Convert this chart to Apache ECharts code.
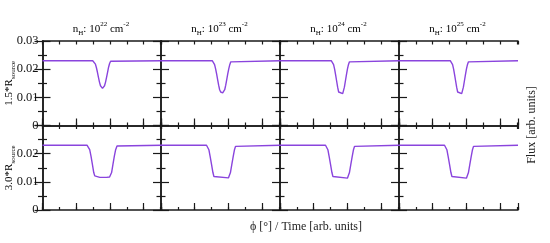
<!DOCTYPE html>
<html><head><meta charset="utf-8">
<script src="https://cdn.jsdelivr.net/npm/echarts@6/dist/echarts.min.js"></script>
<style>html,body{margin:0;padding:0;background:#fff}#c{width:550px;height:243px}</style>
</head><body><div id="c"></div>
<script>
// ---- data ----
const nHExponents = ['22', '23', '24', '25'];
const rowFactors = ['1.5', '3.0'];
const xAxisTitle = 'ϕ [°] / Time [arb. units]';
const yAxisTitle = 'Flux [arb. units]';
const yTickValues = [0, 0.01, 0.02, 0.03];

// row 1 (1.5*R_source), phase vs flux
const r1n22 = [[0,0.0230],[149,0.0230],[153,0.0227],[157,0.0218],[160,0.0205],[163,0.0189],[166,0.0171],[169,0.0154],[172,0.0141],[175,0.0134],[178,0.0132],[181,0.0134],[184,0.0141],[187,0.0154],[190,0.0171],[193,0.0189],[196,0.0207],[199,0.0220],[202,0.0228],[205,0.0230],[353,0.0230]];
const r1n23 = [[0,0.0230],[152,0.0230],[156,0.0226],[159,0.0216],[162,0.0201],[165,0.0183],[168,0.0163],[171,0.0143],[174,0.0127],[177,0.0119],[180,0.0116],[183,0.0116],[186,0.0119],[189,0.0127],[192,0.0143],[195,0.0163],[198,0.0183],[201,0.0201],[204,0.0216],[207,0.0226],[210,0.0230],[353,0.0230]];
const r1n24 = [[0,0.0230],[152,0.0230],[156,0.0226],[159,0.0216],[162,0.0200],[165,0.0180],[168,0.0158],[171,0.0136],[174,0.0119],[176,0.0113],[186,0.0113],[188,0.0119],[191,0.0136],[194,0.0158],[197,0.0180],[200,0.0200],[203,0.0216],[206,0.0226],[209,0.0230],[353,0.0230]];
const r1n25 = [[0,0.0230],[152,0.0230],[156,0.0226],[159,0.0216],[162,0.0200],[165,0.0180],[168,0.0158],[171,0.0136],[174,0.0119],[176,0.0113],[186,0.0113],[188,0.0119],[191,0.0136],[194,0.0158],[197,0.0180],[200,0.0200],[203,0.0216],[206,0.0226],[209,0.0230],[353,0.0230]];
// row 2 (3.0*R_source)
const r2n22 = [[0,0.0230],[132,0.0230],[136,0.0227],[140,0.0214],[144,0.0190],[148,0.0162],[152,0.0133],[155,0.0121],[158,0.0117],[170,0.0116],[190,0.0116],[199,0.0117],[202,0.0121],[205,0.0133],[209,0.0162],[213,0.0190],[217,0.0214],[221,0.0227],[225,0.0230],[353,0.0230]];
const r2n23 = [[0,0.0230],[135,0.0230],[139,0.0226],[142,0.0214],[146,0.0189],[150,0.0161],[154,0.0133],[157,0.0119],[160,0.0114],[200,0.0114],[203,0.0119],[206,0.0133],[210,0.0161],[214,0.0189],[218,0.0214],[221,0.0226],[225,0.0230],[353,0.0230]];
const r2n24 = [[0,0.0230],[135,0.0230],[139,0.0226],[142,0.0214],[146,0.0189],[150,0.0161],[154,0.0133],[157,0.0119],[160,0.0113],[200,0.0113],[203,0.0119],[206,0.0133],[210,0.0161],[214,0.0189],[218,0.0214],[221,0.0226],[225,0.0230],[353,0.0230]];
const r2n25 = [[0,0.0230],[135,0.0230],[139,0.0226],[142,0.0214],[146,0.0189],[150,0.0161],[154,0.0133],[157,0.0119],[160,0.0113],[200,0.0113],[203,0.0119],[206,0.0133],[210,0.0161],[214,0.0189],[218,0.0214],[221,0.0226],[225,0.0230],[353,0.0230]];
const panelData = [[r1n22, r1n23, r1n24, r1n25], [r2n22, r2n23, r2n24, r2n25]];

// ---- layout / style ----
const X_MAX = 353;
const colLeft = [42.5, 161, 280, 399];
const colWidth = 119;
const rowTop = [41, 125.5];
const rowHeight = [84.5, 84.5];
const frame = '#1a1a1a';
const lineColor = '#8a44dd';
const serif = '"Liberation Serif", "DejaVu Serif", serif';

const grids = [], xAxes = [], yAxes = [], series = [];
for (let r = 0; r < 2; r++) {
  for (let c = 0; c < 4; c++) {
    const g = grids.length;
    grids.push({ left: colLeft[c], top: rowTop[r], width: colWidth, height: rowHeight[r] });
    const baseX = { gridIndex: g, type: 'value', min: 0, max: X_MAX, splitLine: { show: false }, axisLabel: { show: false } };
    const xi = xAxes.length;
    xAxes.push(Object.assign({}, baseX, { position: 'bottom', interval: 50,
      axisLine: { show: true, lineStyle: { color: frame, width: 1.5 } },
      axisTick: { show: true, inside: true, length: 3, lineStyle: { color: frame, width: 1.2 } } }));
    xAxes.push(Object.assign({}, baseX, { position: 'bottom', interval: 100,
      axisLine: { show: false },
      axisTick: { show: true, inside: true, length: 7, lineStyle: { color: frame, width: 1.2 } } }));
    xAxes.push(Object.assign({}, baseX, { position: 'top', interval: 50,
      axisLine: { show: true, lineStyle: { color: frame, width: 1.5 } },
      axisTick: { show: true, inside: true, length: 3.5, lineStyle: { color: frame, width: 1.2 } } }));
    const baseY = { gridIndex: g, type: 'value', min: yTickValues[0], max: yTickValues[yTickValues.length - 1], interval: 0.01,
      splitLine: { show: false },
      axisLine: { show: true, lineStyle: { color: frame, width: 1.5 } },
      axisTick: { show: true, inside: true, length: 8, lineStyle: { color: frame, width: 1.2 } },
      minorTick: { show: true, splitNumber: 2, length: 4.5, lineStyle: { color: frame, width: 1.2 } } };
    const yi = yAxes.length;
    yAxes.push(Object.assign({}, baseY, { position: 'left',
      axisLabel: { show: c === 0, color: '#111', fontFamily: serif, fontSize: 12.5, margin: 4,
        formatter: v => (r === 1 && v > 0.029) ? '' : (v === 0 ? '0' : v.toFixed(2)) } }));
    yAxes.push(Object.assign({}, baseY, { position: 'right', axisLabel: { show: false } }));
    series.push({ type: 'line', xAxisIndex: xi, yAxisIndex: yi, data: panelData[r][c],
      showSymbol: false, symbol: 'none', smooth: false,
      lineStyle: { color: lineColor, width: 1.4 } });
  }
}

const rich = {
  m: { fontFamily: serif, fontSize: 11, color: '#222', lineHeight: 16, verticalAlign: 'middle' },
  sub: { fontFamily: serif, fontSize: 7, color: '#222', lineHeight: 6, verticalAlign: 'bottom' },
  sup: { fontFamily: serif, fontSize: 7, color: '#222', lineHeight: 6, verticalAlign: 'top' }
};
const graphics = [];
nHExponents.forEach((e, c) => {
  graphics.push({ type: 'text', x: colLeft[c] + colWidth / 2 - 1, y: 29,
    style: { text: '{m|n}{sub|H}{m|: 10}{sup|' + e + '}{m| cm}{sup|-2}', rich: rich, align: 'center', verticalAlign: 'middle' } });
});
rowFactors.forEach((f, r) => {
  graphics.push({ type: 'text', x: 9, y: rowTop[r] + rowHeight[r] / 2, rotation: Math.PI / 2,
    style: { text: '{m|' + f + '*R}{sub|source}', rich: rich, align: 'center', verticalAlign: 'middle' } });
});
graphics.push({ type: 'text', x: 306, y: 227,
  style: { text: xAxisTitle, fontFamily: serif, fontSize: 12, fill: '#222', align: 'center', verticalAlign: 'middle' } });
graphics.push({ type: 'text', x: 532, y: 125, rotation: Math.PI / 2,
  style: { text: yAxisTitle, fontFamily: serif, fontSize: 12, fill: '#222', align: 'center', verticalAlign: 'middle' } });

const chart = echarts.init(document.getElementById('c'), null, { renderer: 'canvas' });
chart.setOption({ animation: false, backgroundColor: '#fff', grid: grids, xAxis: xAxes, yAxis: yAxes, series: series, graphic: graphics });
</script></body></html>
